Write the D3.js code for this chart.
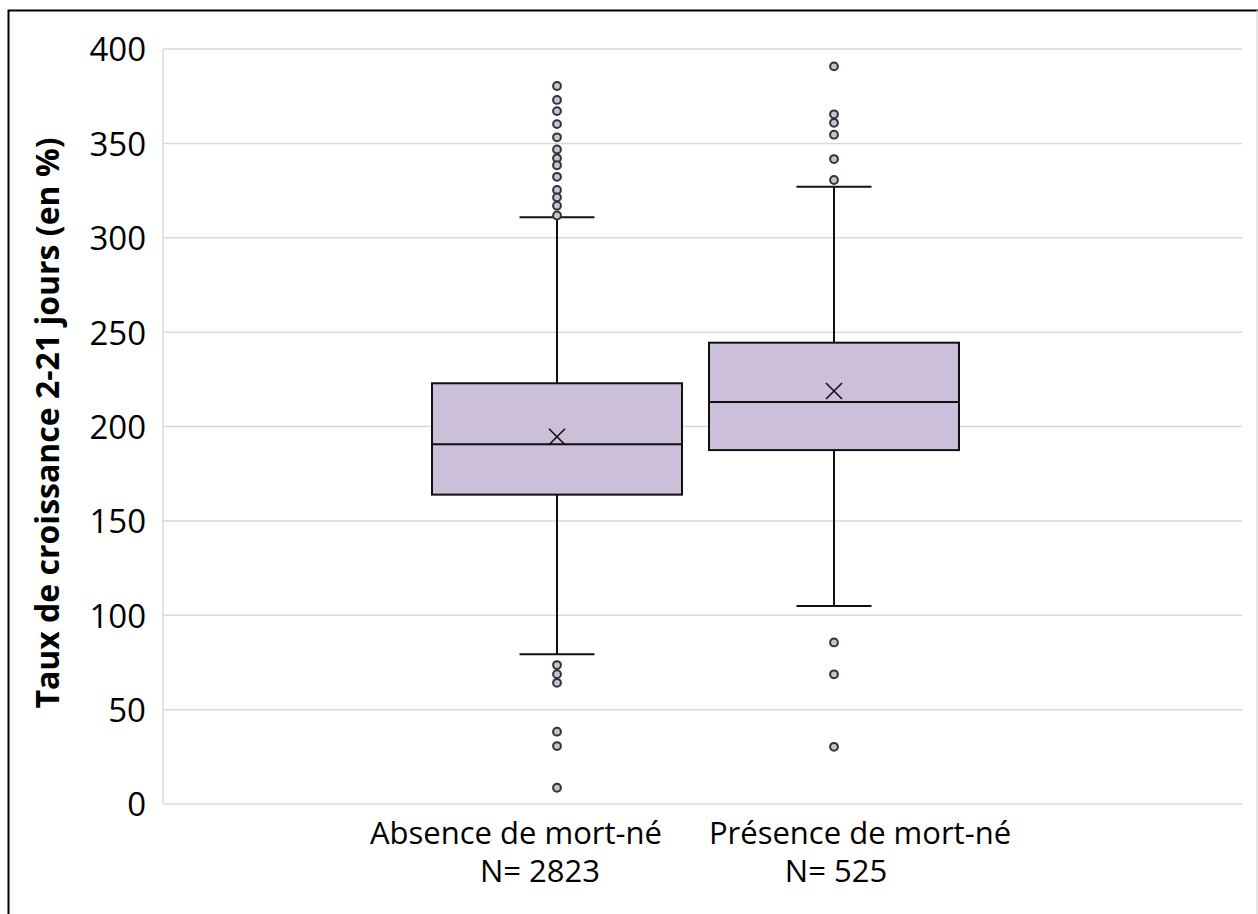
<!DOCTYPE html>
<html>
<head>
<meta charset="utf-8">
<script src="https://cdn.jsdelivr.net/npm/d3@7"></script>
<style>
  html, body { margin: 0; padding: 0; background: #fff; }
  svg { display: block; }
</style>
</head>
<body>
<svg id="chart" width="1258" height="914"></svg>
<script>
// ---- data ----
const groups = ["Absence de mort-né", "Présence de mort-né"];
const counts = [2823, 525];
const q1 = [163.9, 187.5];
const medians = [190.6, 213.0];
const q3 = [222.9, 244.4];
const means = [194.6, 218.8];
const whiskerLow = [79.3, 104.9];
const whiskerHigh = [310.8, 327.0];
const outliersAbsence = [380.4, 373.0, 367.1, 360.2, 353.2, 346.8, 342.1, 338.4, 332.3, 325.3, 321.4, 317.0, 311.8, 73.6, 68.8, 64.2, 38.3, 30.7, 8.6];
const outliersPresence = [390.8, 365.4, 360.9, 354.6, 341.7, 330.6, 85.6, 68.7, 30.3];
const yTicks = [0, 50, 100, 150, 200, 250, 300, 350, 400];
const yTitle = "Taux de croissance 2-21 jours (en %)";

const outliers = [outliersAbsence, outliersPresence];
const boxes = groups.map((g, i) => ({
  group: g, n: counts[i], q1: q1[i], median: medians[i], q3: q3[i],
  mean: means[i], lo: whiskerLow[i], hi: whiskerHigh[i], out: outliers[i]
}));

// ---- layout ----
const svg = d3.select("#chart");
const plot = { left: 163, right: 1242, top: 49, bottom: 804 };

const y = d3.scaleLinear().domain([0, 400]).range([plot.bottom, plot.top]);
const x = d3.scaleBand().domain(groups).range([432, 959]).paddingInner(0.0975).paddingOuter(0);

const fillColor = "#cbbfd9";
const strokeColor = "#111";
const font = "'Open Sans', 'Liberation Sans', sans-serif";

// outer frame
svg.append("rect").attr("x", 8.5).attr("y", 10.5).attr("width", 1300).attr("height", 1000)
  .attr("fill", "none").attr("stroke", "#000").attr("stroke-width", 2);
svg.append("line").attr("x1", 1257).attr("x2", 1257).attr("y1", 10).attr("y2", 914)
  .attr("stroke", "#d0d0d0").attr("stroke-width", 1);

// gridlines
svg.append("g").selectAll("line").data(yTicks).join("line")
  .attr("x1", plot.left).attr("x2", plot.right)
  .attr("y1", d => y(d)).attr("y2", d => y(d))
  .attr("stroke", "#d9d9d9").attr("stroke-width", 1.5);

// left axis line
svg.append("line").attr("x1", plot.left).attr("x2", plot.left)
  .attr("y1", plot.top).attr("y2", plot.bottom)
  .attr("stroke", "#d9d9d9").attr("stroke-width", 1.5);

// y axis tick labels
const yAxis = d3.axisLeft(y).tickValues(yTicks).tickSize(0).tickPadding(0);
const gy = svg.append("g").attr("transform", `translate(146,0)`).call(yAxis);
gy.select(".domain").remove();
gy.selectAll("text").attr("font-family", font).attr("font-size", 33).attr("fill", "#000")
  .attr("dy", "0.36em");

// y title
svg.append("text")
  .attr("transform", `translate(59, 423) rotate(-90)`)
  .attr("text-anchor", "middle")
  .attr("font-family", font).attr("font-weight", "bold").attr("font-size", 32)
  .attr("fill", "#000").text(yTitle);

// boxes
const g = svg.append("g");
const bw = x.bandwidth();
const capW = bw * 0.3;

const bx = g.selectAll("g.box").data(boxes).join("g").attr("class", "box")
  .attr("transform", d => `translate(${x(d.group) + bw / 2},0)`);

// whiskers
bx.append("line").attr("x1", 0).attr("x2", 0).attr("y1", d => y(d.q3)).attr("y2", d => y(d.hi))
  .attr("stroke", strokeColor).attr("stroke-width", 2);
bx.append("line").attr("x1", 0).attr("x2", 0).attr("y1", d => y(d.q1)).attr("y2", d => y(d.lo))
  .attr("stroke", strokeColor).attr("stroke-width", 2);
bx.append("line").attr("x1", -capW / 2).attr("x2", capW / 2).attr("y1", d => y(d.hi)).attr("y2", d => y(d.hi))
  .attr("stroke", strokeColor).attr("stroke-width", 2);
bx.append("line").attr("x1", -capW / 2).attr("x2", capW / 2).attr("y1", d => y(d.lo)).attr("y2", d => y(d.lo))
  .attr("stroke", strokeColor).attr("stroke-width", 2);

// box
bx.append("rect").attr("x", -bw / 2).attr("width", bw)
  .attr("y", d => y(d.q3)).attr("height", d => y(d.q1) - y(d.q3))
  .attr("fill", fillColor).attr("stroke", strokeColor).attr("stroke-width", 2);
// median
bx.append("line").attr("x1", -bw / 2).attr("x2", bw / 2)
  .attr("y1", d => y(d.median)).attr("y2", d => y(d.median))
  .attr("stroke", strokeColor).attr("stroke-width", 2);
// mean marker (X)
const m = 8;
bx.append("path")
  .attr("d", d => `M${-m},${y(d.mean) - m}L${m},${y(d.mean) + m}M${m},${y(d.mean) - m}L${-m},${y(d.mean) + m}`)
  .attr("stroke", strokeColor).attr("stroke-width", 1.6).attr("fill", "none");

// outliers
bx.selectAll("circle").data(d => d.out).join("circle")
  .attr("cx", 0).attr("cy", v => y(v)).attr("r", 3.9)
  .attr("fill", fillColor).attr("stroke", "#333").attr("stroke-width", 2);

// category labels
const labelOffsets = [[-41, -17], [26, 2]];
const lab = svg.append("g").selectAll("text").data(boxes).join("text")
  .attr("font-family", font).attr("font-size", 31).attr("fill", "#000")
  .attr("text-anchor", "middle");
lab.append("tspan")
  .attr("x", (d, i) => x(d.group) + bw / 2 + labelOffsets[i][0]).attr("y", 844)
  .text(d => d.group);
lab.append("tspan")
  .attr("x", (d, i) => x(d.group) + bw / 2 + labelOffsets[i][1]).attr("y", 882)
  .text(d => "N= " + d.n);
</script>
</body>
</html>
